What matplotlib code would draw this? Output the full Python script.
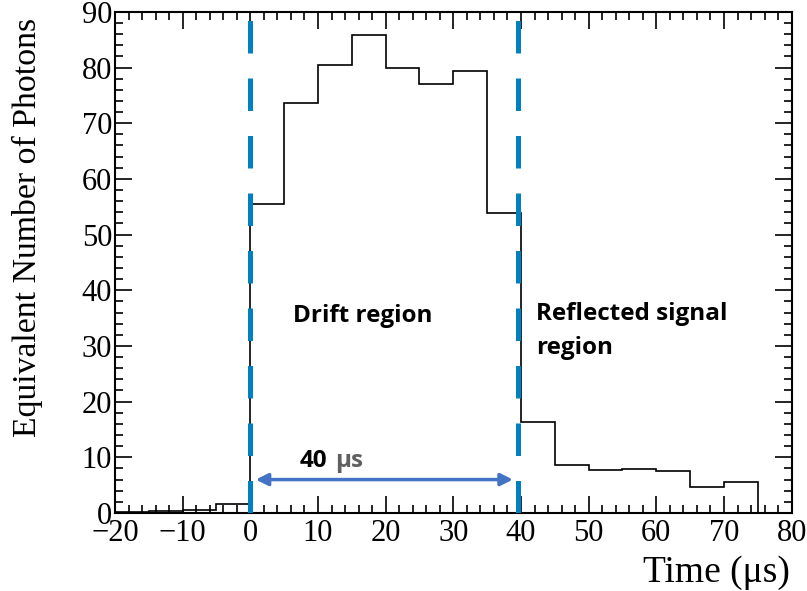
import numpy as np
import matplotlib.pyplot as plt
from matplotlib.ticker import MultipleLocator

# histogram bins (Time in us) and contents
bin_edges = np.arange(-20, 80, 5)
counts = [0.2, 0.3, 0.6, 1.7, 55.5, 73.7, 80.5, 85.9, 79.9, 77.1, 79.3, 53.9,
          16.4, 8.7, 7.8, 7.95, 7.5, 4.7, 5.5]
region_lines = [0, 39.5]

fig = plt.figure(figsize=(8.07, 5.91), dpi=100)
ax = fig.add_axes([0.1425, 0.132, 0.8385, 0.848])

serif = 'Liberation Serif'
sans = 'Open Sans'
ax.stairs(counts, bin_edges, color='black', linewidth=1.2)

for xv in region_lines:
    ax.axvline(xv, color='#0080C0', linewidth=3.6, dashes=(6.5, 5), zorder=3)

ax.annotate('', xy=(0.8, 6), xytext=(38.8, 6),
            arrowprops=dict(arrowstyle='<|-|>', color='#4472C4', lw=2.5,
                            mutation_scale=18, shrinkA=0, shrinkB=0))
ax.text(7.3, 9.4, '40', fontsize=17.5, fontweight='bold', family=sans,
        va='center', ha='left')
ax.text(12.5, 9.4, 'μs', fontsize=17.5, fontweight='bold', family=sans,
        va='center', ha='left', color='#606060')

ax.text(6.3, 35.3, 'Drift region', fontsize=17.5, fontweight='bold', family=sans,
        va='center', ha='left')
ax.text(42.2, 32.7, 'Reflected signal\nregion', fontsize=17.5, fontweight='bold',
        family=sans, va='center', ha='left', linespacing=1.55)

ax.set_xlim(-20, 80)
ax.set_ylim(0, 90)
ax.xaxis.set_major_locator(MultipleLocator(10))
ax.xaxis.set_minor_locator(MultipleLocator(2))
ax.yaxis.set_major_locator(MultipleLocator(10))
ax.yaxis.set_minor_locator(MultipleLocator(2))
ax.tick_params(which='both', direction='in', top=True, right=True, width=1.2)
ax.tick_params(which='major', length=12, labelsize=22)
ax.tick_params(axis='x', which='major', pad=4)
ax.tick_params(axis='y', which='major', pad=2)
ax.tick_params(which='minor', length=6)
for lab in ax.get_yticklabels():
    lab.set_family(serif)
ax.set_xticks(np.arange(-20, 81, 10))
ax.set_xticklabels(['\u221220', '\u221210', '0', '10', '20', '30', '40', '50', '60', '70', '80'],
                   family=serif)
for sp in ax.spines.values():
    sp.set_linewidth(1.5)

ax.set_xlabel('Time (μs)', family=serif, fontsize=27)
ax.xaxis.set_label_coords(0.997, -0.085)
ax.xaxis.label.set_ha('right')
ax.set_ylabel('Equivalent Number of Photons', family=serif, fontsize=24.3)
ax.yaxis.set_label_coords(-0.107, 0.988)
ax.yaxis.label.set_ha('right')

fig.savefig('out.png', dpi=100)
